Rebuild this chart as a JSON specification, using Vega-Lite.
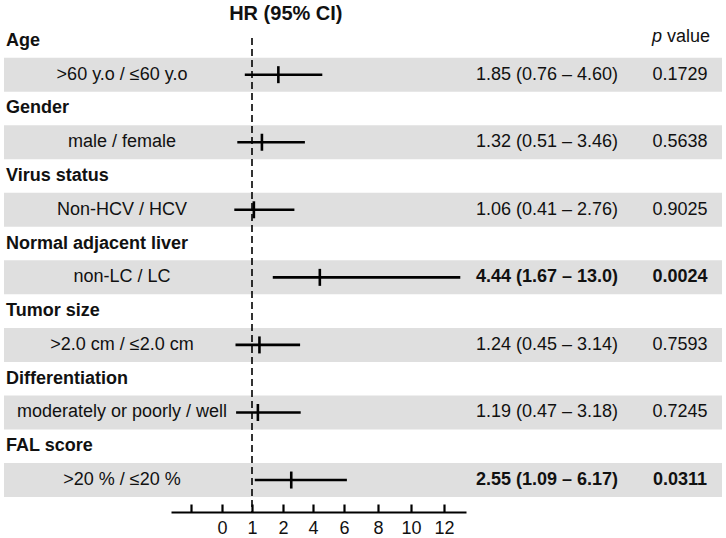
{
  "$schema": "https://vega.github.io/schema/vega-lite/v6.json",
  "width": 726,
  "height": 474,
  "autosize": {"type": "none"},
  "padding": {"top": 38, "left": 0, "right": 0, "bottom": 26},
  "background": "white",
  "config": {
    "view": {"stroke": null},
    "text": {"font": "Liberation Sans", "fontSize": 18, "color": "#111111"}
  },
  "datasets": {
    "rows": [
      {"row": 1, "label": ">60 y.o / ≤60 y.o", "hr": 1.85, "lo": 0.76, "hi": 4.60, "ci": "1.85 (0.76 – 4.60)", "p": "0.1729", "sig": false},
      {"row": 3, "label": "male / female", "hr": 1.32, "lo": 0.51, "hi": 3.46, "ci": "1.32 (0.51 – 3.46)", "p": "0.5638", "sig": false},
      {"row": 5, "label": "Non-HCV / HCV", "hr": 1.06, "lo": 0.41, "hi": 2.76, "ci": "1.06 (0.41 – 2.76)", "p": "0.9025", "sig": false},
      {"row": 7, "label": "non-LC / LC", "hr": 4.44, "lo": 1.67, "hi": 13.0, "ci": "4.44 (1.67 – 13.0)", "p": "0.0024", "sig": true},
      {"row": 9, "label": ">2.0 cm  / ≤2.0 cm", "hr": 1.24, "lo": 0.45, "hi": 3.14, "ci": "1.24 (0.45 – 3.14)", "p": "0.7593", "sig": false},
      {"row": 11, "label": "moderately or poorly / well", "hr": 1.19, "lo": 0.47, "hi": 3.18, "ci": "1.19 (0.47 – 3.18)", "p": "0.7245", "sig": false},
      {"row": 13, "label": ">20 % / ≤20 %", "hr": 2.55, "lo": 1.09, "hi": 6.17, "ci": "2.55 (1.09 – 6.17)", "p": "0.0311", "sig": true}
    ],
    "headers": [
      {"row": 0, "header": "Age"},
      {"row": 2, "header": "Gender"},
      {"row": 4, "header": "Virus status"},
      {"row": 6, "header": "Normal adjacent liver"},
      {"row": 8, "header": "Tumor size"},
      {"row": 10, "header": "Differentiation"},
      {"row": 12, "header": "FAL score"}
    ]
  },
  "layer": [
    {
      "data": {"name": "rows"},
      "mark": {"type": "rule", "color": "#dfdfdf", "strokeWidth": 34, "strokeCap": "butt"},
      "encoding": {
        "x": {
          "datum": -7.233, "type": "quantitative",
          "scale": {"type": "linear", "domain": [-1.6667, -1, 0, 1, 2, 4, 6, 8, 10, 12, 13.35], "range": [171, 191, 222, 252, 283, 313, 344, 378, 411, 444, 466], "nice": false, "zero": false},
          "axis": {
            "values": [-1, 0, 1, 2, 4, 6, 8, 10, 12],
            "labelExpr": "datum.value === -1 ? '' : datum.label",
            "title": null, "grid": false,
            "domainColor": "#000000", "domainWidth": 2.2,
            "tickColor": "#000000", "tickWidth": 2.2, "tickSize": -8,
            "labelFont": "Liberation Sans", "labelFontSize": 18, "labelColor": "#111111",
            "labelPadding": 15, "labelOverlap": false, "labelFlush": false
          }
        },
        "x2": {"datum": 29.06},
        "y": {"field": "row", "type": "quantitative", "scale": {"domain": [-0.0858, 13.946], "reverse": true, "nice": false, "zero": false}, "axis": null}
      }
    },
    {
      "data": {"values": [{}]},
      "mark": {"type": "rule", "color": "#000000", "strokeWidth": 1.6, "strokeDash": [7, 4]},
      "encoding": {"x": {"datum": 1, "type": "quantitative"}}
    },
    {
      "data": {"name": "rows"},
      "mark": {"type": "rule", "color": "#000000", "strokeWidth": 2.6},
      "encoding": {
        "x": {"field": "lo", "type": "quantitative"},
        "x2": {"field": "hi"},
        "y": {"field": "row", "type": "quantitative", "axis": null}
      }
    },
    {
      "data": {"name": "rows"},
      "mark": {"type": "tick", "orient": "vertical", "color": "#000000", "size": 17, "thickness": 2.6, "opacity": 1},
      "encoding": {
        "x": {"field": "hr", "type": "quantitative"},
        "y": {"field": "row", "type": "quantitative", "axis": null}
      }
    },
    {
      "data": {"name": "rows"},
      "mark": {"type": "text", "align": "center", "baseline": "middle"},
      "encoding": {
        "x": {"datum": -3.3, "type": "quantitative"},
        "y": {"field": "row", "type": "quantitative", "axis": null},
        "text": {"field": "label"}
      }
    },
    {
      "data": {"name": "rows"},
      "transform": [{"filter": "!datum.sig"}],
      "mark": {"type": "text", "align": "right", "baseline": "middle"},
      "encoding": {
        "x": {"datum": 22.677, "type": "quantitative"},
        "y": {"field": "row", "type": "quantitative", "axis": null},
        "text": {"field": "ci"}
      }
    },
    {
      "data": {"name": "rows"},
      "transform": [{"filter": "datum.sig"}],
      "mark": {"type": "text", "align": "right", "baseline": "middle", "fontWeight": "bold"},
      "encoding": {
        "x": {"datum": 22.677, "type": "quantitative"},
        "y": {"field": "row", "type": "quantitative", "axis": null},
        "text": {"field": "ci"}
      }
    },
    {
      "data": {"name": "rows"},
      "transform": [{"filter": "!datum.sig"}],
      "mark": {"type": "text", "align": "center", "baseline": "middle"},
      "encoding": {
        "x": {"datum": 26.48, "type": "quantitative"},
        "y": {"field": "row", "type": "quantitative", "axis": null},
        "text": {"field": "p"}
      }
    },
    {
      "data": {"name": "rows"},
      "transform": [{"filter": "datum.sig"}],
      "mark": {"type": "text", "align": "center", "baseline": "middle", "fontWeight": "bold"},
      "encoding": {
        "x": {"datum": 26.48, "type": "quantitative"},
        "y": {"field": "row", "type": "quantitative", "axis": null},
        "text": {"field": "p"}
      }
    },
    {
      "data": {"name": "headers"},
      "mark": {"type": "text", "align": "left", "baseline": "middle", "fontWeight": "bold"},
      "encoding": {
        "x": {"datum": -7.167, "type": "quantitative"},
        "y": {"field": "row", "type": "quantitative", "axis": null},
        "text": {"field": "header"}
      }
    },
    {
      "data": {"values": [{}]},
      "mark": {"type": "text", "align": "center", "baseline": "middle", "fontWeight": "bold", "fontSize": 20},
      "encoding": {
        "x": {"datum": 2.19, "type": "quantitative"},
        "y": {"datum": -0.796, "type": "quantitative"},
        "text": {"value": "HR (95% CI)"}
      }
    },
    {
      "data": {"values": [{}]},
      "mark": {"type": "text", "align": "left", "baseline": "middle", "fontStyle": "italic"},
      "encoding": {
        "x": {"datum": 24.76, "type": "quantitative"},
        "y": {"datum": -0.12, "type": "quantitative"},
        "text": {"value": "p"}
      }
    },
    {
      "data": {"values": [{}]},
      "mark": {"type": "text", "align": "left", "baseline": "middle"},
      "encoding": {
        "x": {"datum": 25.68, "type": "quantitative"},
        "y": {"datum": -0.12, "type": "quantitative"},
        "text": {"value": "value"}
      }
    }
  ]
}
